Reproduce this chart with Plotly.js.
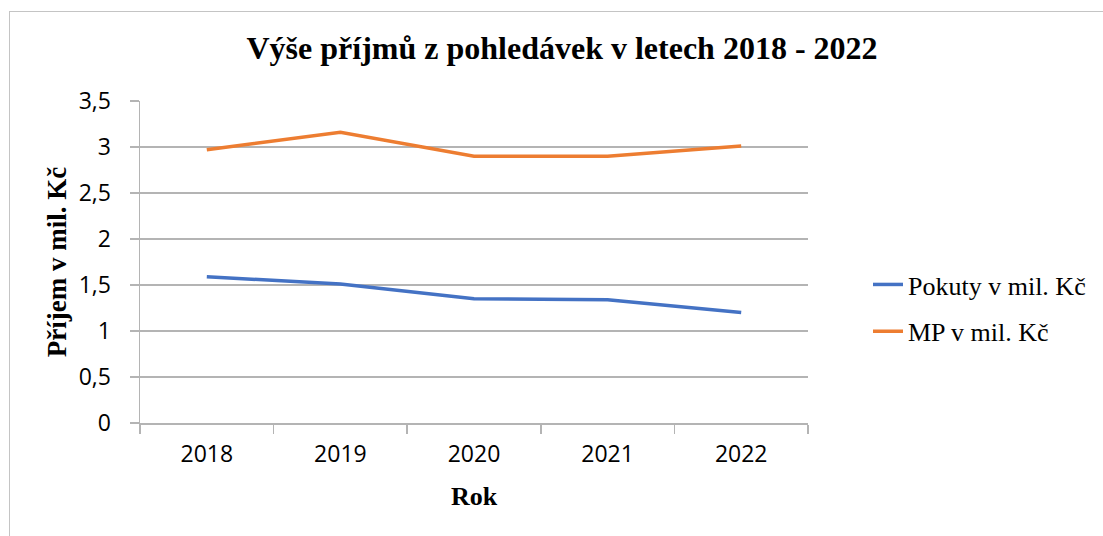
<!DOCTYPE html>
<html>
<head>
<meta charset="utf-8">
<script src="https://cdn.plot.ly/plotly-3.0.1.min.js"></script>
<style>
html,body{margin:0;padding:0;background:#fff;overflow:hidden;}
#chart{width:1103px;height:536px;position:absolute;left:0;top:0;}
#frame{position:absolute;left:9px;top:11px;width:2000px;height:2000px;border:1px solid #c4c4c4;pointer-events:none;}
</style>
</head>
<body>
<div id="chart"></div>
<div id="frame"></div>
<script>
const years = ["2018", "2019", "2020", "2021", "2022"];
const pokuty = [1.59, 1.51, 1.35, 1.34, 1.20];
const mp = [2.97, 3.16, 2.90, 2.90, 3.01];
const seriesNames = ["Pokuty v mil. Kč", "MP v mil. Kč"];
const yTicks = [0, 0.5, 1, 1.5, 2, 2.5, 3, 3.5];

const serif = "'Liberation Serif', 'Times New Roman', serif";
const sans = "'Open Sans', 'Liberation Sans', sans-serif";
const gridCol = "#b4b4b4";

const traces = [
  {x: years, y: pokuty, name: seriesNames[0], type: "scatter", mode: "lines",
   line: {color: "#4472C4", width: 3.5}, legendgroup: "a"},
  {x: years, y: mp, name: seriesNames[1], type: "scatter", mode: "lines",
   line: {color: "#ED7D31", width: 3.5}, legendgroup: "b"}
];

const layout = {
  width: 1103, height: 536,
  margin: {l: 140, r: 295, t: 101, b: 113},
  paper_bgcolor: "rgba(0,0,0,0)",
  plot_bgcolor: "rgba(0,0,0,0)",
  separators: ", ",
  title: {
    text: "<b>Výše příjmů z pohledávek v letech 2018 - 2022</b>",
    font: {family: serif, size: 32, color: "#000"},
    xref: "container", yref: "container",
    x: 562/1103, xanchor: "center",
    y: 1 - 48/536, yanchor: "middle"
  },
  xaxis: {
    type: "category",
    range: [-0.5, 4.5],
    tickson: "boundaries",
    ticks: "outside", ticklen: 9, tickcolor: gridCol, tickwidth: 1.5,
    showline: true, linecolor: gridCol, linewidth: 1.5,
    showgrid: false, zeroline: false,
    tickfont: {family: sans, size: 23, color: "#000"},
    ticklabelstandoff: 10,
    title: {text: "<b>Rok</b>", font: {family: serif, size: 26, color: "#000"}, standoff: 18},
    fixedrange: true
  },
  yaxis: {
    range: [0, 3.5],
    tickvals: yTicks,
    ticks: "outside", ticklen: 9, tickcolor: gridCol, tickwidth: 1.5,
    showline: true, linecolor: gridCol, linewidth: 1.5,
    showgrid: true, gridcolor: gridCol, gridwidth: 1.5,
    zeroline: false,
    tickfont: {family: sans, size: 23, color: "#000"},
    ticklabelstandoff: 14,
    title: {text: "<b>Příjem v mil. Kč</b>", font: {family: serif, size: 27, color: "#000"}, standoff: 4},
    fixedrange: true
  },
  showlegend: true,
  legend: {
    x: (868-140)/668, xanchor: "left",
    y: 0.357, yanchor: "middle",
    font: {family: serif, size: 26, color: "#000"},
    traceorder: "grouped",
    tracegroupgap: 10,
    bgcolor: "rgba(0,0,0,0)"
  }
};

Plotly.newPlot("chart", traces, layout, {displayModeBar: false, staticPlot: true});
</script>
</body>
</html>
